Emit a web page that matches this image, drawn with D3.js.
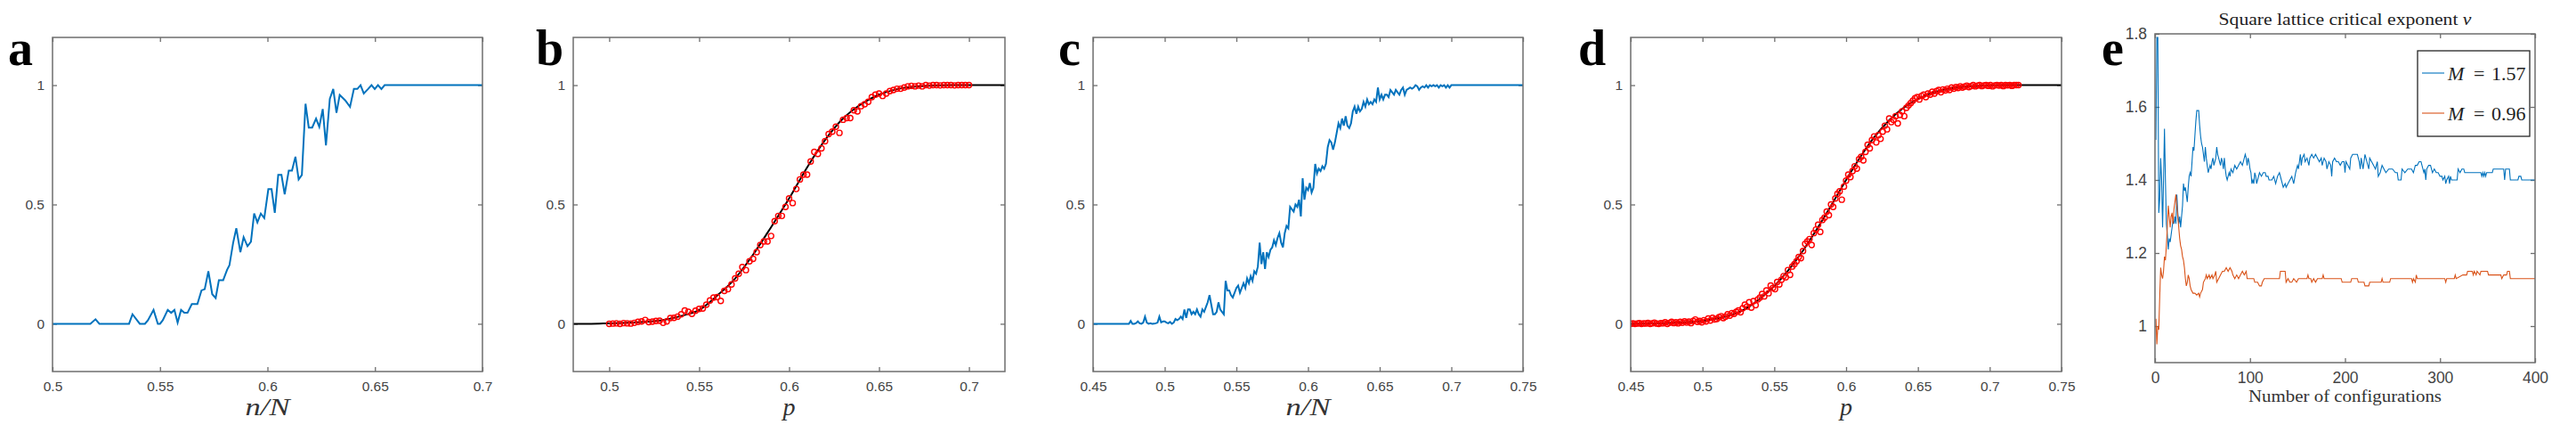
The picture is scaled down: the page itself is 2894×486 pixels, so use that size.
<!DOCTYPE html>
<html><head><meta charset="utf-8">
<script src="https://cdn.jsdelivr.net/npm/d3@7"></script>
<style>body{margin:0;background:#fff}svg{display:block}</style>
</head><body>
<svg id="chart" width="2894" height="486"></svg>
<script>
// ---------------- DATA ----------------
// panel a : fraction vs n/N (blue line)
const aData = [[0.5,0],[0.5176,0],[0.520,0.019],[0.5218,0],[0.5356,0],[0.5372,0.04],[0.5406,0],[0.543,0],[0.5444,0.015],[0.547,0.058],[0.549,0],[0.550,0],[0.5513,0.015],[0.5536,0.058],[0.5552,0.046],[0.5567,0.058],[0.5582,0.005],[0.5598,0.058],[0.5613,0.046],[0.5628,0.046],[0.5648,0.083],[0.5674,0.083],[0.5693,0.14],[0.5708,0.145],[0.5725,0.22],[0.5743,0.124],[0.5759,0.108],[0.5774,0.183],[0.5794,0.183],[0.5812,0.226],[0.5823,0.245],[0.584,0.338],[0.5855,0.40],[0.5874,0.30],[0.5889,0.363],[0.5907,0.325],[0.5923,0.344],[0.5938,0.462],[0.5953,0.425],[0.5969,0.462],[0.5985,0.443],[0.6004,0.564],[0.6019,0.564],[0.6034,0.465],[0.605,0.624],[0.6065,0.624],[0.608,0.543],[0.6099,0.642],[0.6114,0.642],[0.613,0.70],[0.6145,0.605],[0.616,0.624],[0.6177,0.922],[0.6192,0.822],[0.6208,0.822],[0.6226,0.86],[0.6241,0.825],[0.6257,0.90],[0.6272,0.748],[0.629,0.943],[0.6306,0.984],[0.6321,0.884],[0.6336,0.959],[0.6361,0.937],[0.6384,0.909],[0.6402,0.984],[0.6418,0.984],[0.6433,1.0],[0.6448,0.965],[0.6468,0.984],[0.6484,1.0],[0.6499,0.984],[0.6514,1.0],[0.653,0.984],[0.6545,1.0],[0.7,1.0]];

// panel b : samples (red circles) at p = 0.5 + 0.002*i, and fitted curve (black)
const bStart = 0.5, bStep = 0.002;
const bPoints = [0.000,0.001,0.002,0.000,0.003,0.002,0.001,0.004,0.008,0.010,
 0.016,0.007,0.009,0.012,0.013,0.004,0.010,0.024,0.025,0.030,
 0.040,0.056,0.050,0.042,0.055,0.062,0.064,0.080,0.098,0.110,
 0.112,0.096,0.138,0.145,0.165,0.190,0.210,0.238,0.225,0.262,
 0.272,0.300,0.330,0.345,0.345,0.368,0.430,0.452,0.452,0.490,
 0.525,0.506,0.565,0.605,0.625,0.625,0.680,0.720,0.712,0.735,
 0.765,0.795,0.805,0.826,0.800,0.855,0.862,0.862,0.895,0.890,
 0.912,0.920,0.930,0.950,0.960,0.965,0.955,0.965,0.975,0.980,
 0.985,0.985,0.990,0.995,0.997,0.995,0.998,0.995,1.000,0.998,
 1.000,1.000,0.999,1.000,1.000,1.000,0.999,1.000,1.000,1.000,1.000];
const bFitX = [0.48,0.49,0.50,0.51,0.52,0.53,0.54,0.55,0.56,0.57,0.58,0.59,0.60,0.61,0.62,0.63,0.64,0.65,0.66,0.67,0.68,0.69,0.70,0.71,0.72];
const bFitY = [0,0,0.002,0.004,0.008,0.016,0.033,0.058,0.118,0.19,0.29,0.405,0.525,0.655,0.77,0.86,0.92,0.96,0.983,0.994,0.998,1,1,1,1];

// panel c : blue line at n/N = 0.45 + 0.00125*k, plus tail to 0.75
const cStart = 0.45, cStep = 0.00125;
const cValues = [0,0,0,0,0,0,0,0,0,0,0,0,0,0,0,0,0,0,0,0,0,
 0.012,0,0,0.003,0.01,0.002,0,0.005,0.03,0.005,
 0,0.002,0,0.001,0.002,0.005,0.03,0.006,0.01,0.01,
 0.005,0.002,0.008,0,0.005,0.02,0.015,0.02,0.03,0.02,
 0.06,0.025,0.06,0.06,0.04,0.05,0.04,0.06,0.04,0.03,
 0.06,0.05,0.07,0.09,0.12,0.08,0.04,0.04,0.05,0.09,
 0.06,0.05,0.04,0.18,0.14,0.14,0.12,0.11,0.13,0.15,
 0.16,0.13,0.15,0.17,0.15,0.19,0.17,0.20,0.18,0.22,
 0.21,0.24,0.34,0.25,0.30,0.23,0.30,0.28,0.31,0.32,
 0.35,0.33,0.36,0.38,0.34,0.32,0.38,0.41,0.40,0.49,
 0.48,0.47,0.50,0.49,0.52,0.45,0.61,0.52,0.57,0.56,
 0.59,0.55,0.57,0.67,0.63,0.65,0.64,0.66,0.65,0.67,
 0.74,0.77,0.76,0.73,0.76,0.80,0.84,0.82,0.86,0.83,
 0.87,0.83,0.82,0.84,0.89,0.91,0.88,0.91,0.89,0.90,
 0.93,0.91,0.94,0.92,0.93,0.92,0.94,0.93,0.99,0.94,
 0.96,0.94,0.96,0.96,0.95,0.98,0.97,0.96,0.98,0.97,
 0.96,0.98,0.99,0.96,0.98,0.985,0.99,0.985,0.99,1.0,
 0.995,0.98,0.99,0.995,0.99,1.0,0.99,1.0,0.995,1.0,
 0.995,1.0,0.99,1.0,0.995,1.0,0.99,1.0,0.99,1.0];
const cTail = [0.75, 1.0];

// panel d : samples (red circles) at p = 0.45 + 0.0015*i, and fitted curve (black)
const dStart = 0.45, dStep = 0.0015;
const dPoints = [0,0.002,0,0.001,0.003,0,0.002,0.001,0.004,0,
 0.002,0.005,0.001,0,0.003,0.002,0.006,0,0.004,0.008,
 0.003,0.006,0.002,0.008,0.004,0.010,0.005,0.009,0.003,0.012,
 0.018,0.008,0.012,0.006,0.015,0.010,0.022,0.014,0.025,0.018,
 0.020,0.028,0.032,0.024,0.030,0.040,0.034,0.045,0.042,0.050,
 0.056,0.048,0.065,0.080,0.072,0.090,0.068,0.095,0.078,0.102,
 0.110,0.125,0.115,0.140,0.128,0.160,0.150,0.145,0.175,0.165,
 0.185,0.200,0.195,0.225,0.205,0.240,0.250,0.262,0.280,0.275,
 0.305,0.335,0.345,0.355,0.330,0.380,0.395,0.415,0.385,0.435,
 0.445,0.470,0.455,0.500,0.490,0.525,0.545,0.555,0.520,0.575,
 0.600,0.625,0.615,0.640,0.660,0.650,0.690,0.700,0.685,0.720,
 0.750,0.735,0.770,0.785,0.760,0.790,0.775,0.805,0.830,0.815,
 0.860,0.845,0.855,0.870,0.840,0.875,0.890,0.870,0.905,0.915,
 0.925,0.935,0.945,0.950,0.940,0.955,0.960,0.950,0.965,0.960,
 0.972,0.965,0.975,0.980,0.970,0.982,0.978,0.985,0.980,0.990,
 0.985,0.992,0.988,0.995,0.990,0.994,0.998,0.992,0.996,1.0,
 0.995,0.998,1.0,0.996,0.999,1.0,0.997,1.0,0.995,0.999,
 1.0,0.998,1.0,0.996,1.0,0.999,1.0,0.997,1.0,1.0,1.0];
const dFitX = [0.45,0.46,0.47,0.48,0.49,0.50,0.51,0.52,0.53,0.54,0.55,0.56,0.57,0.58,0.59,0.60,0.61,0.62,0.63,0.64,0.65,0.66,0.67,0.68,0.69,0.70,0.71,0.72,0.73,0.74,0.75];
const dFitY = [0,0.001,0.002,0.004,0.007,0.012,0.022,0.037,0.063,0.105,0.158,0.226,0.307,0.400,0.500,0.603,0.700,0.785,0.853,0.905,0.942,0.968,0.983,0.992,0.996,0.999,1,1,1,1,1];

// panel e : critical exponent estimate vs number of configurations
const eSeriesNames = ["M = 1.57", "M = 0.96"];
const eBlue = [[1,1.51],[2,1.79],[3,1.79],[4,1.31],[5,1.35],[6,1.46],[7,1.40],[8,1.27],[9,1.40],[10,1.54],[11,1.40],[12,1.28],[13,1.25],[14,1.21],[15,1.24],[16,1.23],[17,1.25],[18,1.27],[19,1.29],[20,1.28],[21,1.30],[22,1.28],[23,1.36],[24,1.31],[25,1.28],[26,1.30],[27,1.27],[28,1.30],[29,1.33],[30,1.39],[31,1.37],[32,1.38],[33,1.36],[34,1.34],[35,1.38],[36,1.41],[37,1.42],[38,1.41],[39,1.45],[40,1.49],[41,1.48],[42,1.52],[43,1.56],[44,1.59],[45,1.59],[46,1.59],[47,1.55],[48,1.52],[49,1.50],[50,1.49],[51,1.47],[52,1.45],[53,1.49],[54,1.46],[55,1.44],[56,1.42],[57,1.43],[58,1.44],[59,1.43],[60,1.45],[61,1.46],[62,1.44],[63,1.45],[64,1.46],[65,1.49],[66,1.47],[67,1.46],[68,1.45],[69,1.44],[70,1.46],[71,1.45],[72,1.43],[73,1.46],[74,1.43],[75,1.41],[76,1.40],[77,1.41],[78,1.42],[79,1.41],[80,1.43],[82,1.42],[84,1.44],[86,1.43],[88,1.44],[90,1.45],[92,1.44],[94,1.46],[95,1.47],[96,1.46],[97,1.44],[98,1.46],[99,1.45],[100,1.43],[101,1.42],[102,1.39],[103,1.40],[104,1.39],[105,1.42],[106,1.41],[107,1.39],[108,1.40],[110,1.42],[112,1.41],[114,1.42],[116,1.42],[117,1.41],[119,1.41],[120,1.40],[123,1.40],[125,1.41],[127,1.39],[129,1.41],[131,1.42],[133,1.40],[135,1.38],[137,1.39],[138,1.38],[140,1.39],[142,1.40],[144,1.41],[146,1.39],[148,1.42],[150,1.44],[151,1.43],[152,1.45],[153,1.47],[154,1.44],[155,1.46],[157,1.47],[158,1.45],[160,1.46],[162,1.44],[163,1.46],[165,1.47],[167,1.46],[169,1.47],[171,1.46],[173,1.45],[175,1.46],[176,1.44],[178,1.46],[180,1.45],[181,1.43],[183,1.45],[185,1.44],[186,1.41],[187,1.45],[189,1.46],[191,1.45],[193,1.45],[195,1.44],[197,1.45],[199,1.45],[200,1.42],[201,1.45],[203,1.44],[205,1.43],[206,1.46],[208,1.47],[210,1.47],[213,1.47],[215,1.45],[216,1.43],[217,1.46],[219,1.43],[221,1.47],[222,1.46],[224,1.44],[225,1.43],[226,1.46],[228,1.45],[230,1.44],[232,1.43],[234,1.45],[235,1.41],[237,1.42],[239,1.44],[241,1.43],[243,1.42],[246,1.43],[250,1.43],[253,1.42],[255,1.42],[256,1.40],[259,1.40],[260,1.43],[263,1.42],[266,1.43],[270,1.43],[272,1.42],[274,1.44],[276,1.44],[278,1.45],[280,1.45],[281,1.44],[283,1.42],[284,1.43],[285,1.40],[286,1.43],[288,1.44],[290,1.44],[292,1.42],[294,1.43],[296,1.42],[298,1.42],[300,1.41],[302,1.41],[303,1.40],[305,1.41],[306,1.39],[307,1.40],[309,1.41],[310,1.39],[311,1.41],[312,1.40],[318,1.40],[319,1.43],[321,1.42],[323,1.43],[325,1.43],[326,1.42],[343,1.42],[344,1.41],[345,1.42],[346,1.41],[347,1.42],[348,1.41],[349,1.42],[355,1.42],[356,1.43],[367,1.43],[368,1.40],[369,1.43],[373,1.43],[374,1.40],[382,1.40],[383,1.41],[385,1.41],[386,1.40],[400,1.40]];
const eRed = [[1,1.02],[2,0.95],[3,1.00],[4,0.99],[5,1.08],[6,1.16],[7,1.14],[8,1.13],[9,1.15],[10,1.19],[11,1.18],[12,1.22],[13,1.27],[14,1.33],[15,1.30],[16,1.27],[17,1.30],[18,1.31],[19,1.28],[20,1.32],[21,1.34],[22,1.36],[23,1.33],[24,1.30],[25,1.27],[26,1.24],[27,1.22],[28,1.21],[29,1.19],[30,1.18],[31,1.16],[32,1.13],[33,1.11],[34,1.12],[35,1.14],[36,1.13],[37,1.11],[38,1.10],[40,1.09],[42,1.09],[44,1.085],[46,1.09],[47,1.08],[48,1.09],[50,1.10],[51,1.12],[53,1.13],[54,1.14],[55,1.13],[57,1.14],[58,1.13],[60,1.14],[61,1.13],[63,1.14],[64,1.15],[65,1.12],[67,1.13],[69,1.14],[71,1.15],[73,1.15],[75,1.16],[77,1.15],[79,1.16],[81,1.15],[82,1.14],[84,1.13],[86,1.14],[88,1.13],[90,1.14],[92,1.15],[94,1.14],[96,1.15],[97,1.13],[100,1.13],[104,1.13],[105,1.12],[108,1.12],[110,1.11],[112,1.11],[113,1.12],[115,1.13],[131,1.13],[132,1.15],[137,1.15],[138,1.12],[140,1.13],[142,1.12],[144,1.12],[146,1.13],[149,1.12],[151,1.13],[160,1.13],[161,1.14],[162,1.13],[164,1.13],[165,1.12],[167,1.13],[169,1.12],[171,1.13],[176,1.13],[177,1.14],[178,1.13],[196,1.13],[197,1.12],[206,1.12],[207,1.13],[213,1.13],[214,1.12],[220,1.12],[221,1.11],[225,1.11],[226,1.12],[238,1.12],[239,1.13],[240,1.12],[247,1.12],[248,1.13],[270,1.13],[271,1.12],[272,1.13],[274,1.12],[275,1.14],[276,1.13],[305,1.13],[306,1.12],[307,1.13],[315,1.13],[316,1.14],[317,1.13],[324,1.14],[328,1.14],[329,1.15],[334,1.15],[335,1.14],[336,1.15],[338,1.14],[339,1.15],[342,1.14],[343,1.15],[350,1.15],[351,1.14],[364,1.14],[365,1.13],[367,1.14],[370,1.14],[371,1.15],[373,1.15],[374,1.13],[400,1.13]];

// ticks
const yTicksAD = [0, 0.5, 1];
const xTicksA = [0.5, 0.55, 0.6, 0.65, 0.7];
const xTicksB = [0.5, 0.55, 0.6, 0.65, 0.7];
const xTicksCD = [0.45, 0.5, 0.55, 0.6, 0.65, 0.7, 0.75];
const xTicksE = [0, 100, 200, 300, 400];
const yTicksE = [1, 1.2, 1.4, 1.6, 1.8];
const panelLetters = ["a", "b", "c", "d", "e"];

// ---------------- DRAWING ----------------
const svg = d3.select("#chart");
const FRAME = "#6e6e6e", TXT = "#444444";
const BLUE = "#0072BD", ORANGE = "#D95319";
const SANS = "'Liberation Sans', Arial, sans-serif";
const SERIF = "'Liberation Serif', 'Times New Roman', serif";

function makePanel(p) {
  const x = d3.scaleLinear().domain(p.xd).range([p.l, p.r]);
  const y = d3.scaleLinear().domain(p.yd).range([p.b, p.t]);
  const g = svg.append("g");
  const cid = "clip-" + p.name;
  svg.append("clipPath").attr("id", cid).append("rect")
    .attr("x", p.l).attr("y", p.t).attr("width", p.r - p.l).attr("height", p.b - p.t);

  function styleAxis(s, fs) {
    s.select(".domain").remove();
    s.selectAll("line").attr("stroke", FRAME).attr("stroke-width", 1.3);
    s.attr("font-family", SANS).attr("font-size", fs);
    s.selectAll("text").attr("fill", TXT);
  }
  const fs = p.fs;
  g.append("g").attr("transform", `translate(0,${p.b})`)
    .call(d3.axisBottom(x).tickValues(p.xt).tickFormat(d => String(d)).tickSizeInner(-5).tickSizeOuter(0).tickPadding(p.xpad))
    .call(s => styleAxis(s, fs));
  g.append("g").attr("transform", `translate(0,${p.t})`)
    .call(d3.axisTop(x).tickValues(p.xt).tickFormat("").tickSizeInner(-5).tickSizeOuter(0))
    .call(s => styleAxis(s, fs));
  g.append("g").attr("transform", `translate(${p.l},0)`)
    .call(d3.axisLeft(y).tickValues(p.yt).tickFormat(d => String(d)).tickSizeInner(-5).tickSizeOuter(0).tickPadding(9))
    .call(s => styleAxis(s, fs));
  g.append("g").attr("transform", `translate(${p.r},0)`)
    .call(d3.axisRight(y).tickValues(p.yt).tickFormat("").tickSizeInner(-5).tickSizeOuter(0))
    .call(s => styleAxis(s, fs));

  const plot = g.append("g").attr("clip-path", `url(#${cid})`);
  g.append("rect").attr("x", p.l).attr("y", p.t).attr("width", p.r - p.l).attr("height", p.b - p.t)
    .attr("fill", "none").attr("stroke", FRAME).attr("stroke-width", 1.5);

  // panel letter
  svg.append("text").attr("x", p.lx).attr("y", 73).text(p.letter)
    .attr("font-family", SERIF).attr("font-weight", "bold").attr("font-size", 56).attr("fill", "#000");
  return {x, y, plot};
}

const line = (x, y, curve) => d3.line().x(d => x(d[0])).y(d => y(d[1])).curve(curve || d3.curveLinear);

function axisLabel(cx, text, width) {
  svg.append("text").attr("x", cx).attr("y", 466).attr("text-anchor", "middle")
    .attr("font-family", SERIF).attr("font-style", "italic").attr("font-size", 28).attr("fill", "#333")
    .attr("textLength", width).attr("lengthAdjust", "spacingAndGlyphs").text(text);
}

// Panel a
{
  const P = makePanel({name:"a", l:59, r:542, t:42, b:417, xd:[0.5,0.7], yd:[-0.2,1.2], xt:xTicksA, yt:yTicksAD, fs:15.5, xpad:11, letter:panelLetters[0], lx:9});
  P.plot.append("path").datum(aData).attr("d", line(P.x, P.y)).attr("fill","none").attr("stroke",BLUE).attr("stroke-width",2);
  axisLabel(300.5, "n/N", 50);
}
// Panel b
{
  const P = makePanel({name:"b", l:644, r:1129, t:42, b:417, xd:[0.48,0.72], yd:[-0.2,1.2], xt:xTicksB, yt:yTicksAD, fs:15.5, xpad:11, letter:panelLetters[1], lx:602});
  const fit = bFitX.map((v,i) => [v, bFitY[i]]);
  P.plot.append("path").datum(fit).attr("d", line(P.x, P.y, d3.curveMonotoneX)).attr("fill","none").attr("stroke","#000").attr("stroke-width",2);
  const pts = bPoints.map((v,i) => [bStart + bStep*i, v]);
  P.plot.selectAll("circle.b").data(pts).join("circle").attr("cx", d => P.x(d[0])).attr("cy", d => P.y(d[1]))
    .attr("r", 3).attr("fill","none").attr("stroke","#ff0000").attr("stroke-width",1.4);
  axisLabel(886.5, "p", 14);
}
// Panel c
{
  const P = makePanel({name:"c", l:1228, r:1711, t:42, b:417, xd:[0.45,0.75], yd:[-0.2,1.2], xt:xTicksCD, yt:yTicksAD, fs:15.5, xpad:11, letter:panelLetters[2], lx:1189});
  const pts = cValues.map((v,k) => [cStart + cStep*k, v]).concat([cTail]);
  P.plot.append("path").datum(pts).attr("d", line(P.x, P.y)).attr("fill","none").attr("stroke",BLUE).attr("stroke-width",2);
  axisLabel(1469.5, "n/N", 50);
}
// Panel d
{
  const P = makePanel({name:"d", l:1832, r:2316, t:42, b:417, xd:[0.45,0.75], yd:[-0.2,1.2], xt:xTicksCD, yt:yTicksAD, fs:15.5, xpad:11, letter:panelLetters[3], lx:1773});
  const fit = dFitX.map((v,i) => [v, dFitY[i]]);
  P.plot.append("path").datum(fit).attr("d", line(P.x, P.y, d3.curveMonotoneX)).attr("fill","none").attr("stroke","#000").attr("stroke-width",2);
  const pts = dPoints.map((v,i) => [dStart + dStep*i, v]);
  P.plot.selectAll("circle.d").data(pts).join("circle").attr("cx", d => P.x(d[0])).attr("cy", d => P.y(d[1]))
    .attr("r", 3).attr("fill","none").attr("stroke","#ff0000").attr("stroke-width",1.4);
  axisLabel(2074, "p", 14);
}
// Panel e
{
  const P = makePanel({name:"e", l:2421, r:2848, t:38, b:407, xd:[0,400], yd:[0.9,1.8], xt:xTicksE, yt:yTicksE, fs:17.5, xpad:11, letter:panelLetters[4], lx:2361});
  P.plot.append("path").datum(eBlue).attr("d", line(P.x, P.y)).attr("fill","none").attr("stroke",BLUE).attr("stroke-width",1.1);
  P.plot.append("path").datum(eRed).attr("d", line(P.x, P.y)).attr("fill","none").attr("stroke",ORANGE).attr("stroke-width",1.1);
  // title
  const t = svg.append("text").attr("x", 2634.5).attr("y", 28).attr("text-anchor","middle")
    .attr("font-family", SERIF).attr("font-size", 18).attr("fill","#222")
    .attr("textLength", 284).attr("lengthAdjust","spacingAndGlyphs");
  t.append("tspan").text("Square lattice critical exponent ");
  t.append("tspan").attr("font-style","italic").text("ν");
  // x label
  svg.append("text").attr("x", 2634.5).attr("y", 451).attr("text-anchor","middle")
    .attr("font-family", SERIF).attr("font-size", 19).attr("fill","#333")
    .attr("textLength", 217).attr("lengthAdjust","spacingAndGlyphs").text("Number of configurations");
  // legend
  const lg = svg.append("g");
  lg.append("rect").attr("x",2716).attr("y",57).attr("width",126).attr("height",96)
    .attr("fill","#fff").attr("stroke","#262626").attr("stroke-width",1.3);
  const cols = [BLUE, ORANGE], ys = [82, 127];
  eSeriesNames.forEach((name, i) => {
    lg.append("line").attr("x1",2721).attr("x2",2746).attr("y1",ys[i]).attr("y2",ys[i]).attr("stroke",cols[i]).attr("stroke-width",1.1);
    const parts = name.split(" = ");
    lg.append("text").attr("x",2750).attr("y",ys[i]+7.5).attr("font-family",SERIF).attr("font-style","italic")
      .attr("font-size",22).attr("fill","#222").text(parts[0]);
    lg.append("text").attr("x",2779).attr("y",ys[i]+7.5).attr("font-family",SERIF)
      .attr("font-size",22).attr("fill","#222").text("=");
    lg.append("text").attr("x",2799).attr("y",ys[i]+7.5).attr("font-family",SERIF)
      .attr("font-size",22).attr("fill","#222").text(parts[1]);
  });
}
</script>
</body></html>
